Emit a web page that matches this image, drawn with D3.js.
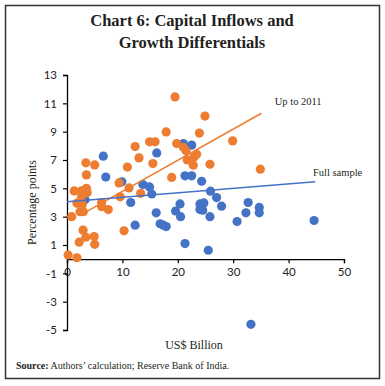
<!DOCTYPE html>
<html><head><meta charset="utf-8">
<script src="https://cdn.jsdelivr.net/npm/d3@7"></script>
<style>body{margin:0;background:#fff}svg{display:block}</style>
</head><body>
<script>
const titleLines = ["Chart 6: Capital Inflows and", "Growth Differentials"];
const xTicks = [0,10,20,30,40,50];
const yTicks = [-5,-3,-1,1,3,5,7,9,11,13];
const orangeX = [0.2,1.8,0.85,2.9,3.4,2.2,4.9,5.0,10.3,1.8,2.75,2.35,2.95,2.6,6.25,6.25,7.45,9.6,13.3,1.3,2.6,3.5,3.65,3.4,5.0,3.5,10.9,9.4,11.2,12.3,13.0,15.5,18.9,21.0,21.5,21.7,22.8,22.9,23.4,19.5,24.9,17.9,23.9,14.9,15.9,19.8,29.9,34.9,25.8];
const orangeY = [0.3,0.1,3.0,2.05,1.55,1.2,1.6,1.05,2.0,3.95,3.85,3.35,3.35,4.4,4.0,3.7,3.5,4.4,4.65,4.82,4.82,5.0,4.7,6.8,6.65,5.95,6.5,5.38,5.03,7.95,7.15,6.75,5.77,7.9,7.65,7.0,6.63,7.2,7.4,11.45,10.1,8.98,8.9,8.28,8.28,8.16,8.35,6.35,6.7];
const blueX = [3.25,11.5,12.3,15.3,16.1,16.8,17.4,17.9,19.6,20.4,20.5,21.3,24.0,24.0,25.9,27.0,27.9,24.7,24.5,25.8,25.5,32.7,34.7,34.7,32.3,30.7,44.6,33.2,16.2,13.7,14.9,21.3,22.5,24.3,6.55,7.0,9.9,21.0,22.5];
const blueY = [4.2,4.0,2.4,4.6,3.27,2.5,2.4,2.3,3.4,3.9,3.0,1.1,3.9,3.5,4.8,4.35,3.74,3.97,3.46,3.0,0.63,4.0,3.65,3.27,3.27,2.66,2.73,-4.6,7.5,5.27,5.1,5.88,5.88,5.5,7.27,5.8,5.46,8.16,8.05];
const orangeFitX = [2.8, 35.1];
const orangeFitY = [3.2, 10.3];
const blueFitX = [0, 44.8];
const blueFitY = [4.05, 5.46];
const lineLabels = ["Up to 2011", "Full sample"];

const W = 385, H = 386;
const svg = d3.select("body").append("svg").attr("width", W).attr("height", H);
svg.append("rect").attr("x",5.5).attr("y",5.5).attr("width",374).attr("height",373)
  .attr("fill","#fff").attr("stroke","#333").attr("stroke-width",1.5);

svg.append("text").attr("x",192).attr("font-family","Liberation Serif, serif").attr("font-weight","bold")
  .attr("font-size",16.5).attr("fill","#231f20").attr("text-anchor","middle")
  .selectAll("tspan").data(titleLines).join("tspan").attr("x",192).attr("y",(d,i)=>26+i*22).text(d=>d);

const x = d3.scaleLinear().domain([0,50]).range([67,344]);
const y = d3.scaleLinear().domain([-5,13]).range([330,75]);
const g = svg.append("g");

const xAxis = g.append("g").attr("transform",`translate(0,${y(0)})`)
  .call(d3.axisBottom(x).tickValues(xTicks).tickFormat(d=>String(d)).tickSize(4).tickPadding(5));
const yAxis = g.append("g").attr("transform",`translate(${x(0)},0)`)
  .call(d3.axisLeft(y).tickValues(yTicks).tickFormat(d=>String(d)).tickSize(4).tickPadding(6));
[xAxis,yAxis].forEach(a=>{
  a.select(".domain").attr("stroke","#000").attr("stroke-width",1.3);
  a.selectAll(".tick line").attr("stroke","#000").attr("stroke-width",1.2);
  a.selectAll(".tick text").attr("font-family","Lato, sans-serif").attr("font-size",11.5).attr("fill","#222");
});

const ptsB = blueX.map((v,i)=>[v,blueY[i]]);
const ptsO = orangeX.map((v,i)=>[v,orangeY[i]]);
g.append("g").selectAll("circle").data(ptsB).join("circle")
  .attr("cx",d=>x(d[0])).attr("cy",d=>y(d[1])).attr("r",4.6).attr("fill","#4472C4");
g.append("g").selectAll("circle").data(ptsO).join("circle")
  .attr("cx",d=>x(d[0])).attr("cy",d=>y(d[1])).attr("r",4.6).attr("fill","#ED7D31");

const line = d3.line().x(d=>x(d[0])).y(d=>y(d[1]));
g.append("path").attr("d",line(orangeFitX.map((v,i)=>[v,orangeFitY[i]]))).attr("stroke","#ED7D31").attr("stroke-width",1.5).attr("fill","none");
g.append("path").attr("d",line(blueFitX.map((v,i)=>[v,blueFitY[i]]))).attr("stroke","#4472C4").attr("stroke-width",1.5).attr("fill","none");

g.append("text").attr("x",x(37.5)).attr("y",y(10.9)).attr("font-family","Liberation Serif, serif").attr("font-size",10.5).attr("fill","#231f20").text(lineLabels[0]);
g.append("text").attr("x",x(44.4)).attr("y",y(5.9)).attr("font-family","Liberation Serif, serif").attr("font-size",10.5).attr("fill","#231f20").text(lineLabels[1]);

svg.append("text").attr("transform",`translate(36,${y(4)}) rotate(-90)`).attr("text-anchor","middle")
  .attr("font-family","Liberation Serif, serif").attr("font-size",12).attr("fill","#231f20").text("Percentage points");
svg.append("text").attr("x",194).attr("y",349).attr("text-anchor","middle")
  .attr("font-family","Liberation Serif, serif").attr("font-size",12).attr("fill","#231f20").text("US$ Billion");
const src = svg.append("text").attr("x",16).attr("y",369).attr("font-family","Liberation Serif, serif").attr("font-size",10).attr("fill","#231f20");
src.append("tspan").attr("font-weight","bold").text("Source:");
src.append("tspan").text(" Authors’ calculation; Reserve Bank of India.");
</script>
</body></html>
